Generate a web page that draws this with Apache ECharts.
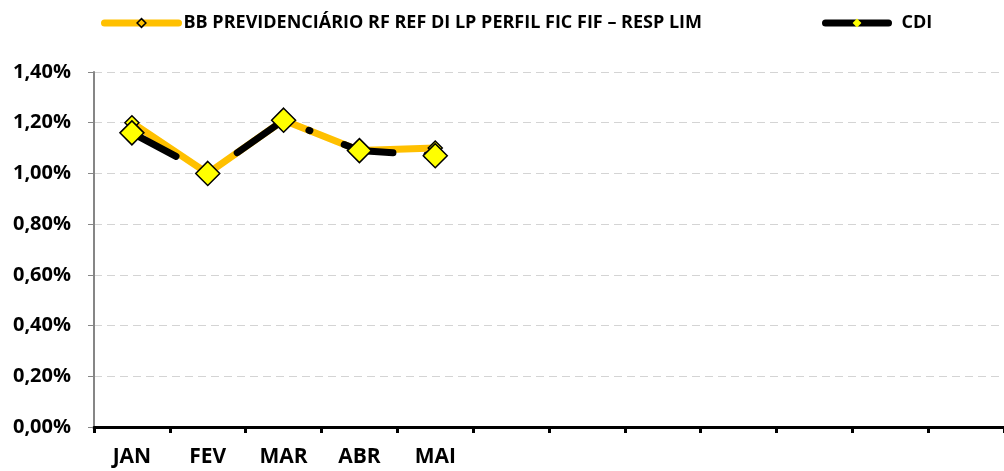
<!DOCTYPE html>
<html>
<head>
<meta charset="utf-8">
<script src="https://cdn.jsdelivr.net/npm/echarts@6/dist/echarts.min.js"></script>
<style>
  html, body { margin: 0; padding: 0; background: #fff; }
  #chart { width: 1004px; height: 471px; }
</style>
</head>
<body>
<div id="chart"></div>
<script>
const fundName = 'BB PREVIDENCIÁRIO RF REF DI LP PERFIL FIC FIF – RESP LIM'
const cdiName = 'CDI'
// 12 slots on the axis, labels only for the months with data
const months = ['JAN', 'FEV', 'MAR', 'ABR', 'MAI', '', '', '', '', '', '', '']
const fundValues = [1.20, 1.00, 1.21, 1.09, 1.10]
const cdiValues = [1.16, 1.00, 1.21, 1.09, 1.07]
const yMin = 0
const yMax = 1.4
const yStep = 0.2

const font = '"Open Sans", "Liberation Sans", sans-serif'
const gold = '#FFC000'

const chart = echarts.init(document.getElementById('chart'), null, {renderer: 'canvas'})

const legendText = {fontFamily: font, fontWeight: 'bold', fontSize: 18, color: '#000'}

const option = {
  animation: false,
  textStyle: {fontFamily: font},
  grid: {left: 94, top: 72, width: 919, height: 355},
  legend: [{
    left: 96, top: 9,
    itemWidth: 74, itemHeight: 11, itemGap: 5,
    textStyle: legendText,
    lineStyle: {width: 7, type: 'solid', cap: 'round'},
    data: [{name: fundName, itemStyle: {color: gold, borderColor: '#000', borderWidth: 1.5}}]
  }, {
    left: 817, top: 9,
    itemWidth: 63, itemHeight: 11, itemGap: 5,
    textStyle: Object.assign({}, legendText, {padding: [0, 0, 0, 8]}),
    lineStyle: {width: 7, type: 'solid', cap: 'round'},
    data: [{name: cdiName, itemStyle: {color: '#FFFF00', borderWidth: 0}}]
  }],
  xAxis: {
    type: 'category',
    data: months,
    axisLine: {lineStyle: {color: '#000', width: 3}},
    axisTick: {show: true, length: 6, lineStyle: {color: '#000', width: 3}},
    axisLabel: {
      interval: 0,
      margin: 20,
      fontFamily: font, fontWeight: 'bold', fontSize: 21, color: '#000'
    },
    splitLine: {show: false}
  },
  yAxis: {
    type: 'value',
    min: yMin, max: yMax, interval: yStep,
    axisLine: {show: true, lineStyle: {color: '#868686', width: 2}},
    axisTick: {show: true, length: 6, lineStyle: {color: '#868686'}},
    axisLabel: {
      margin: 23,
      fontFamily: font, fontWeight: 'bold', fontSize: 20, color: '#000',
      formatter: function (v) {
        return v.toFixed(2).replace('.', ',') + '%'
      }
    },
    splitLine: {show: true, lineStyle: {color: '#D4D4D4', width: 1, type: [8, 5]}}
  },
  series: [{
    name: fundName,
    type: 'line',
    z: 2,
    data: fundValues,
    symbol: 'diamond',
    symbolSize: 14,
    itemStyle: {color: '#FFFF00', borderColor: '#000', borderWidth: 1.5},
    lineStyle: {color: gold, width: 7}
  }, {
    name: cdiName,
    type: 'line',
    z: 3,
    data: cdiValues,
    symbol: 'diamond',
    symbolSize: 24,
    itemStyle: {color: '#FFFF00', borderColor: '#000', borderWidth: 1.5},
    // long dash - dot pattern
    lineStyle: {color: '#000', width: 7, type: [50, 34, 1, 37], cap: 'round'}
  }]
}

chart.setOption(option)
</script>
</body>
</html>
